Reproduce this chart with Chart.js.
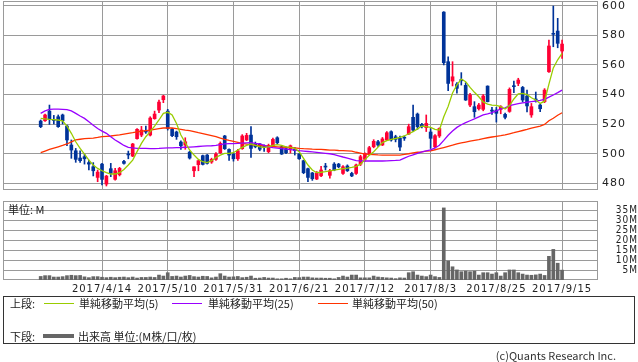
<!DOCTYPE html>
<html><head><meta charset="utf-8">
<script src="https://cdn.jsdelivr.net/npm/chart.js@4.4.1/dist/chart.umd.min.js"></script>
<style>
html,body{margin:0;padding:0;background:#fff;}
body{width:638px;height:362px;position:relative;overflow:hidden;font-family:"Noto Sans CJK JP","DejaVu Sans",sans-serif;color:#222;}
canvas{position:absolute;left:0;}
#c1{top:0;}
#c2{top:195px;}
.t{position:absolute;font-size:11px;line-height:14px;white-space:nowrap;color:#222;}
.ln{position:absolute;height:1px;}
#legend{position:absolute;left:3px;top:296px;width:632px;height:48px;border:1px solid #333;box-sizing:border-box;}
</style></head><body>
<canvas id="c1" width="638" height="191"></canvas>
<canvas id="c2" width="638" height="105"></canvas>
<div class="t" style="left:8px;top:202px;">単位: M</div>
<div id="legend"></div>
<div class="t" style="left:10px;top:296px;">上段:</div>
<div class="ln" style="left:44px;top:303px;width:30px;background:#99cc00;"></div>
<div class="t" style="left:79px;top:296px;">単純移動平均(5)</div>
<div class="ln" style="left:172px;top:303px;width:30px;background:#9900ff;"></div>
<div class="t" style="left:208px;top:296px;">単純移動平均(25)</div>
<div class="ln" style="left:318px;top:303px;width:30px;background:#ff3300;"></div>
<div class="t" style="left:352px;top:296px;">単純移動平均(50)</div>
<div class="t" style="left:10px;top:329px;">下段:</div>
<div class="ln" style="left:43px;top:334px;width:31px;height:4px;background:#666;"></div>
<div class="t" style="left:78px;top:329px;">出来高 単位:(M株/口/枚)</div>
<div class="t" style="right:22px;top:348px;color:#333;">(c)Quants Research Inc.</div>
<script>
const tickIdx=[14,29,44,59,74,89,104,119];
const tickLabels=['2017/4/14','2017/5/10','2017/5/31','2017/6/21','2017/7/12','2017/8/3','2017/8/25','2017/9/15'];
const priceTicks=[480,500,520,540,560,580,600];
const volTicks=[5,10,15,20,25,30,35];

const opens=[522.1,522.3,528.8,523.2,525.0,526.2,518.7,505.9,502.0,497.1,
498.0,494.0,491.2,484.0,493.0,479.5,489.9,482.7,485.8,494.8,
499.8,498.4,510.2,512.6,515.3,512.6,523.7,529.5,536.5,528.8,
516.5,514.7,507.9,505.9,501.1,488.5,492.6,498.7,499.1,494.4,
496.2,500.7,512.0,502.9,499.8,496.6,503.4,509.3,512.6,507.0,
506.6,505.0,501.4,505.4,510.8,504.7,503.4,503.4,503.0,499.8,
495.3,489.9,487.0,482.9,485.1,491.4,485.4,493.0,493.0,486.7,
491.7,486.7,486.7,493.0,496.2,499.8,504.7,508.1,505.9,509.3,
514.9,511.5,510.5,511.0,513.3,524.6,526.8,519.8,517.6,514.7,
504.7,512.0,595.7,562.2,549.1,547.1,550.2,546.2,532.9,531.8,
530.4,530.0,545.7,529.5,529.5,530.0,526.6,528.6,545.8,547.5,
544.8,539.0,526.2,536.7,532.9,535.2,555.4,581.3,582.9,569.4];
const highs=[522.8,526.8,532.9,525.9,526.2,526.8,519.4,509.3,503.6,502.0,
499.8,495.7,494.0,489.0,493.5,485.4,493.5,490.1,490.8,495.5,
501.8,507.0,517.0,518.5,518.7,525.0,528.8,536.3,539.5,530.0,
517.1,515.3,508.8,510.8,501.6,491.2,495.7,499.1,499.5,497.0,
500.7,508.0,512.4,503.4,500.2,502.9,512.9,513.8,518.3,507.9,
507.0,506.0,506.5,510.6,511.5,505.5,504.7,505.9,504.2,500.2,
495.7,490.3,487.4,488.0,491.5,493.5,489.5,494.0,493.5,492.0,
492.5,487.5,493.0,499.0,500.6,505.0,509.5,509.0,511.0,515.0,
515.5,512.5,512.0,512.0,520.0,532.9,527.5,520.5,526.2,517.0,
513.0,517.5,596.0,565.5,562.2,548.0,554.8,548.0,540.8,535.2,
534.0,540.0,545.9,531.3,531.3,532.5,527.5,544.5,549.1,551.0,
545.5,543.0,534.0,541.7,533.5,544.0,576.8,599.8,591.5,576.8];
const lows=[517.6,521.9,519.8,520.1,517.8,520.1,505.4,496.9,494.2,494.2,
493.0,489.0,485.0,481.1,478.9,478.2,484.5,482.2,485.0,493.0,
496.6,498.0,509.9,511.5,513.8,512.0,523.3,527.7,534.5,516.0,
511.5,509.7,502.9,503.0,496.4,484.5,488.5,492.4,493.0,493.5,
495.5,500.2,502.9,495.5,495.0,495.5,503.0,508.8,497.5,504.0,
502.0,501.5,500.7,505.0,506.5,499.5,500.0,500.5,499.1,496.2,
486.5,481.1,482.0,482.5,484.5,489.0,483.5,488.5,490.5,486.0,
488.0,484.5,486.0,492.0,495.0,499.0,504.0,505.0,505.5,508.8,
508.5,508.0,502.0,509.0,513.0,515.0,516.5,517.5,515.0,503.6,
504.0,511.0,560.0,542.6,545.8,541.0,546.4,536.0,531.8,524.6,
529.5,529.0,535.0,526.6,521.4,527.0,523.5,528.0,541.2,546.0,
535.0,528.2,524.6,534.9,528.5,534.5,555.0,572.3,571.6,564.4];
const closes=[518.3,526.2,523.2,522.5,518.3,522.3,509.3,502.5,496.2,495.3,
496.6,493.0,488.5,487.6,482.7,484.9,486.7,488.5,490.1,493.5,
499.2,506.6,516.5,516.0,514.7,524.1,526.8,534.9,539.0,517.1,
512.2,511.5,505.4,508.1,497.1,491.2,495.3,492.8,493.5,496.2,
499.8,507.0,503.4,499.1,496.6,502.0,512.0,512.4,503.6,504.7,
503.0,504.5,505.6,509.7,507.4,499.8,500.7,505.4,502.2,496.6,
487.2,484.0,483.1,487.0,489.0,491.0,488.5,489.0,491.2,491.2,
488.5,485.0,492.4,498.0,500.2,504.1,508.4,505.9,510.0,514.2,
509.3,509.7,504.5,510.5,518.3,516.0,518.3,518.3,520.5,510.4,
512.2,517.1,561.5,547.5,552.0,544.2,549.3,536.3,539.7,528.4,
532.9,539.0,535.2,528.8,527.3,531.8,524.6,543.5,545.3,549.8,
536.3,532.3,531.8,536.3,530.4,543.0,572.8,580.7,574.6,574.1];
const ma5=[523.9,523.5,523.2,523.0,522.8,522.3,518.7,513.8,508.1,503.6,
499.8,495.7,492.4,490.1,488.5,487.2,486.3,486.3,487.2,489.4,
492.4,495.7,501.4,507.0,511.5,514.9,518.7,522.8,527.3,528.0,
526.2,520.5,512.6,507.5,502.5,499.1,496.2,494.6,494.0,495.3,
497.5,499.1,500.2,500.2,500.7,502.5,504.3,505.6,506.6,505.6,
504.7,504.3,504.7,505.6,506.1,505.6,504.7,504.3,503.6,501.4,
496.9,492.4,489.0,487.2,487.5,487.9,488.4,489.0,489.4,490.0,
490.3,490.8,491.5,493.0,496.0,499.0,501.4,504.5,507.5,508.8,
509.7,510.3,511.0,512.0,513.5,514.9,516.8,518.7,518.3,517.8,
516.5,516.0,525.0,532.0,541.0,546.5,550.5,548.7,544.8,541.5,
538.5,535.0,533.6,532.9,532.7,531.8,530.2,532.5,537.0,540.5,
540.8,540.0,537.8,536.3,534.0,535.5,547.0,558.0,563.5,567.8];
const ma25=[527.3,528.9,530.0,530.2,530.2,530.0,529.8,528.9,527.3,525.5,
523.9,521.6,519.2,517.1,515.3,513.8,511.5,509.3,507.5,505.6,
504.3,503.9,503.6,503.6,503.6,503.5,503.5,503.6,503.8,504.0,
504.0,504.1,504.2,504.4,504.5,504.7,504.9,505.1,505.3,505.4,
505.6,506.1,506.6,506.8,506.9,507.0,507.2,507.4,507.5,507.0,
506.6,505.7,504.7,504.2,503.8,503.4,503.1,502.8,502.5,502.1,
501.8,501.5,501.2,500.9,500.6,500.3,500.0,499.4,498.6,497.8,
497.1,496.2,495.3,495.2,495.1,495.1,495.1,495.1,495.1,495.2,
495.4,495.5,495.7,497.0,498.3,499.3,500.3,501.3,502.0,502.6,
503.9,505.7,509.0,512.5,515.3,517.8,519.6,521.0,522.3,523.5,
524.9,526.2,526.9,527.8,528.9,530.3,531.0,532.5,533.2,533.8,
534.4,534.8,535.2,535.6,536.0,536.8,538.2,539.7,541.3,543.0];
const ma50=[500.7,501.8,502.9,503.8,504.7,505.6,506.6,508.0,509.3,509.8,
510.2,510.4,510.6,511.0,511.5,511.8,512.0,512.4,512.8,513.3,
513.8,514.2,514.7,515.2,515.6,516.0,516.5,517.0,517.4,517.4,
517.4,517.0,516.5,516.0,515.6,514.9,514.2,513.6,512.9,512.2,
511.5,510.6,509.7,509.0,508.4,507.7,507.0,506.5,506.1,505.8,
505.6,505.4,505.2,504.9,504.7,504.5,504.3,504.1,503.9,503.6,
503.4,503.3,503.1,503.0,502.9,502.7,502.5,502.4,502.2,502.1,
502.0,501.7,501.0,500.4,499.8,499.6,499.4,499.2,499.1,499.1,
499.1,499.1,499.1,499.5,500.0,500.6,501.0,501.3,501.7,502.0,
502.7,503.4,504.2,505.0,505.8,506.7,507.3,507.9,508.5,509.0,
509.5,510.2,510.8,511.3,511.8,512.2,512.8,513.5,514.2,515.0,
515.7,516.4,517.3,518.0,518.7,519.8,522.3,524.0,526.0,527.7];
const volumes=[1.8,2.2,2.2,1.5,1.5,1.7,2.2,2.4,2.2,2.3,
1.6,1.2,1.7,1.7,1.4,1.2,1.4,1.2,1.4,1.5,
1.2,1.5,1.0,1.3,1.3,1.5,1.3,2.5,2.0,3.7,
1.8,2.0,1.5,2.0,2.3,1.7,1.5,1.9,1.8,1.1,
1.5,3.2,2.0,1.5,1.6,1.8,1.2,1.4,2.0,0.9,
1.0,1.3,1.0,1.0,0.6,0.6,0.9,0.6,1.3,1.2,
1.5,1.5,1.1,1.0,1.0,0.9,0.9,0.6,1.3,2.0,
1.5,2.5,2.5,1.1,1.1,1.1,2.0,1.5,1.3,1.1,
1.0,0.7,1.1,1.0,3.7,4.2,2.5,2.0,1.7,2.5,
1.7,1.3,36.5,9.6,6.7,5.1,4.2,4.5,4.2,4.5,
2.5,3.7,3.7,3.0,3.7,2.0,3.7,5.1,5.1,3.7,
3.0,2.5,2.4,2.6,3.0,2.3,12.0,15.5,8.5,5.0];

const X_MIN=-8.6, X_MAX=127.2;
const UP='#ff0033', DOWN='#003399', GRID='#9a9a9a';
const idx=opens.map((_,i)=>i);
const candleColors=idx.map(i=>closes[i]>=opens[i]?UP:DOWN);
const bodies=idx.map(i=>({x:i,y:[Math.min(opens[i],closes[i]),Math.max(opens[i],closes[i])]}));
const wicks=idx.map(i=>({x:i,y:[lows[i],highs[i]]}));
const line=(arr,color)=>({type:'line',data:arr.map((v,i)=>({x:i,y:v})),borderColor:color,borderWidth:1.3,pointRadius:0,tension:0,fill:false});

const frame={id:'frame',beforeDatasetsDraw(c){const a=c.chartArea,x=c.ctx;x.save();x.strokeStyle=GRID;x.lineWidth=1;
 x.strokeRect(Math.round(a.left)+0.5,Math.round(a.top)+0.5,Math.round(a.right)-Math.round(a.left)-1,Math.round(a.bottom)-Math.round(a.top)-1);x.restore();}};
const spacing={id:'spacing',beforeDraw(c){try{c.ctx.letterSpacing='1px';}catch(e){}}};
const zeroPad=s=>{s.paddingTop=0;s.paddingBottom=0;s.paddingLeft=0;s.paddingRight=0;};
const xScale=(showLabels,h)=>({type:'linear',min:X_MIN,max:X_MAX,offset:false,
  afterBuildTicks:s=>{s.ticks=tickIdx.map(v=>({value:v}));},
  ticks:{display:showLabels,autoSkip:false,maxRotation:0,padding:3,color:'#222',font:{family:'DejaVu Sans',size:10},
    callback:v=>{const k=tickIdx.indexOf(v);return k>=0?tickLabels[k]:'';}},
  grid:{color:GRID,drawTicks:false,offset:false},border:{display:false},
  afterFit:s=>{s.height=h;zeroPad(s);}});

new Chart(document.getElementById('c1'),{type:'bar',
 data:{datasets:[line(ma5,'#99cc00'),line(ma25,'#9900ff'),line(ma50,'#ff3300'),
  {type:'bar',data:bodies,backgroundColor:candleColors,barThickness:3,grouped:false,minBarLength:1},
  {type:'bar',data:wicks,backgroundColor:candleColors,barThickness:1,grouped:false}]},
 options:{animation:false,responsive:false,events:[],
  layout:{padding:{left:3,top:1,right:0,bottom:1}},
  plugins:{legend:{display:false},tooltip:{enabled:false}},
  scales:{x:xScale(false,0),
   y:{position:'right',min:475.5,max:603.2,
    afterBuildTicks:s=>{s.ticks=priceTicks.map(v=>({value:v}));},
    ticks:{padding:4,autoSkip:false,color:'#222',font:{family:'DejaVu Sans',size:11}},
    grid:{color:GRID,drawTicks:false},border:{display:false},
    afterFit:s=>{s.width=40;zeroPad(s);}}}},
 plugins:[frame,spacing]});

new Chart(document.getElementById('c2'),{type:'bar',
 data:{datasets:[{data:volumes.map((v,i)=>({x:i,y:v})),backgroundColor:'#666666',barThickness:3}]},
 options:{animation:false,responsive:false,events:[],
  layout:{padding:{left:3,top:6,right:0,bottom:0}},
  plugins:{legend:{display:false},tooltip:{enabled:false}},
  scales:{x:xScale(true,20),
   y:{position:'right',min:0,max:40,
    afterBuildTicks:s=>{s.ticks=volTicks.map(v=>({value:v}));},
    ticks:{padding:0,autoSkip:false,crossAlign:'far',color:'#222',font:{family:'"DejaVu Sans Condensed","Liberation Sans Narrow","Liberation Sans"',size:10},callback:v=>v+'M'},
    grid:{color:GRID,drawTicks:false},border:{display:false},
    afterFit:s=>{s.width=40;zeroPad(s);}}}},
 plugins:[frame,spacing]});
</script>
</body></html>
